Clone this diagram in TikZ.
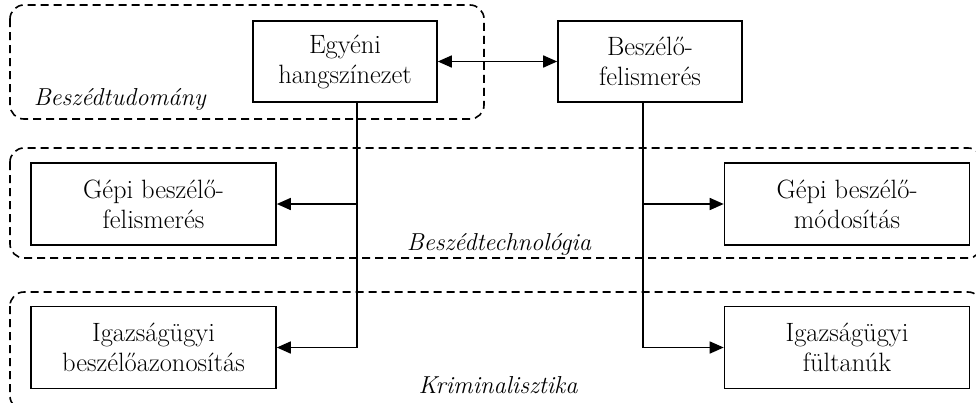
\documentclass[tikz,border=0pt]{standalone}
\usepackage{fontspec}
\usetikzlibrary{positioning,arrows.meta}

\begin{document}
\begin{tikzpicture}[x=1pt,y=-1pt,on grid,line width=1.6pt,
   >={Triangle[length=14pt,width=12pt]},
   box/.style={draw,align=center,minimum width=184pt,minimum height=81pt,
      font=\fontsize{26.5}{30}\selectfont},
   widebox/.style={box,minimum width=245pt,minimum height=82pt},
   area/.style={draw,dash pattern=on 8pt off 5pt,rounded corners=14pt},
   arealabel/.style={font=\fontsize{24.5}{30}\selectfont\itshape,inner sep=0pt}]
   \useasboundingbox (0,0) rectangle (976,402);
   \draw[area] (10,5) rectangle (484,119);
   \draw[area] (10,148) rectangle (982,258);
   \draw[area] (10,292) rectangle (982,410);
   \node[arealabel,anchor=base west] (tudomany) at (33,105) {Beszédtudomány};
   \node[arealabel,anchor=base] (technologia) at (499,250) {Beszédtechnológia};
   \node[arealabel,anchor=base] (krimi) at (498,393) {Kriminalisztika};
   \node[box] (egyeni) at (345,61.5) {Egyéni\\hangszínezet};
   \node[box] (beszelo) [right=305pt of egyeni] {Beszélő-\\felismerés};
   \node[widebox] (gepfel) [below left=142.5pt and 191.5pt of egyeni] {Gépi beszélő-\\felismerés};
   \node[widebox] (igazbesz) [below=143.5pt of gepfel] {Igazságügyi\\beszélőazonosítás};
   \node[widebox] (gepmod) [right=693.5pt of gepfel] {Gépi beszélő-\\módosítás};
   \node[widebox] (fultanu) [right=693.5pt of igazbesz] {Igazságügyi\\fültanúk};
   \coordinate (lspine) at ([xshift=12pt]egyeni.south);
   \coordinate (rspine) at ([xshift=-7pt]beszelo.south);
   \draw[<->] (egyeni) -- (beszelo);
   \draw[->] (lspine) |- (igazbesz);
   \draw[->] (lspine |- gepfel) -- (gepfel);
   \draw[->] (rspine) |- (fultanu);
   \draw[->] (rspine |- gepmod) -- (gepmod);
\end{tikzpicture}
\end{document}
